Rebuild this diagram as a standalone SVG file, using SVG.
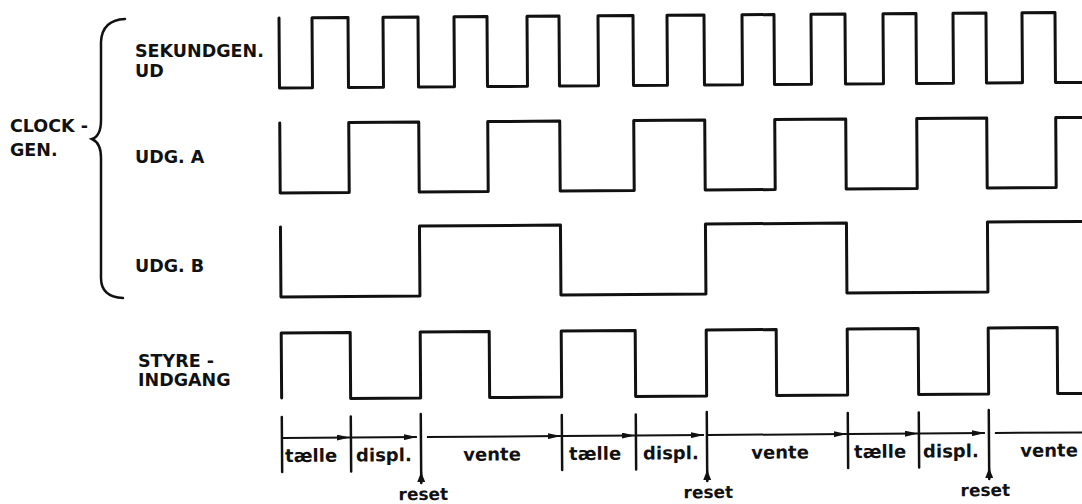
<svg xmlns="http://www.w3.org/2000/svg" width="1082" height="504" viewBox="0 0 1082 504">
  <defs>
    <style>
      .wave { fill: none; stroke: #111; stroke-width: 3; stroke-linejoin: round; stroke-linecap: round; }
      .tick { stroke: #111; stroke-width: 2.5; stroke-linecap: round; }
      .arr { stroke: #111; stroke-width: 2; fill: none; }
      .lbl { font-family: "DejaVu Sans", "Liberation Sans", sans-serif; font-weight: bold; font-size: 17.5px; fill: #111; }
      .tl { font-family: "DejaVu Sans", "Liberation Sans", sans-serif; font-weight: bold; font-size: 18px; fill: #111; }
      .rs { font-family: "DejaVu Sans", "Liberation Sans", sans-serif; font-weight: bold; font-size: 17px; fill: #111; text-anchor: middle; }
      .brace { fill: none; stroke: #111; stroke-width: 2.5; stroke-linecap: round; }
    </style>
    <marker id="ah" viewBox="0 0 13 6" refX="13" refY="3" markerWidth="13" markerHeight="6" markerUnits="userSpaceOnUse" orient="auto">
      <path d="M0,0 L13,3 L0,6 Z" fill="#111"/>
    </marker>
    <marker id="ahr" viewBox="0 0 10 8" refX="10" refY="4" markerWidth="10" markerHeight="8" markerUnits="userSpaceOnUse" orient="auto">
      <path d="M0,0 L10,4 L0,8 Z" fill="#111"/>
    </marker>
  </defs>
  <rect width="1082" height="504" fill="#fff"/>

  <g id="labels">
    <text class="lbl" x="10" y="132">CLOCK -</text>
    <text class="lbl" x="10" y="156">GEN.</text>
    <path id="brace" class="brace" d="M125,19 Q102,20 101,42 L101,120 Q101,136 92,139 Q101,143 101,158 L101,278 Q101,297 123,298"/>
    <text class="lbl" x="135" y="57">SEKUNDGEN.</text>
    <text class="lbl" x="135" y="77">UD</text>
    <text class="lbl" x="135" y="163">UDG. A</text>
    <text class="lbl" x="135" y="272">UDG. B</text>
    <text class="lbl" x="138" y="367">STYRE -</text>
    <text class="lbl" x="138" y="386">INDGANG</text>
  </g>

  <g transform="rotate(-0.4 279 18)">
    <g id="sekundgen">
      <path class="wave" d="M279,18 V88 H312 V18 H348 V88 H383 V18 H418 V88 H454 V18 H487 V88 H527 V18 H559 V88 H598 V18 H633 V88 H667 V18 H704 V88 H742 V18 H774 V88 H811 V18 H845 V88 H883 V18 H916 V88 H953 V18 H986 V88 H1022 V18 H1055 V88 H1095"/>
    </g>
    <g id="udg-a">
      <path class="wave" d="M279,123 V193 H348 V123 H418 V193 H487 V123 H559 V193 H633 V123 H704 V193 H774 V123 H845 V193 H916 V123 H986 V193 H1055 V123 H1095"/>
    </g>
    <g id="udg-b">
      <path class="wave" d="M279,227 V297 H418 V227 H559 V297 H704 V227 H845 V297 H986 V227 H1095"/>
    </g>
    <g id="styre">
      <path class="wave" d="M279,398 V333 H348 V399 H418 V333 H487 V399 H559 V333 H633 V399 H704 V333 H774 V399 H845 V333 H916 V399 H986 V333 H1055 V399 H1095"/>
    </g>

    <g id="connectors">
      <line class="tick" x1="279" y1="417" x2="279" y2="472"/>
      <line class="tick" x1="348" y1="417" x2="348" y2="472"/>
      <line class="tick" x1="418" y1="415" x2="418" y2="484"/>
      <line class="tick" x1="559" y1="417" x2="559" y2="472"/>
      <line class="tick" x1="633" y1="417" x2="633" y2="472"/>
      <line class="tick" x1="704" y1="415" x2="704" y2="484"/>
      <line class="tick" x1="845" y1="417" x2="845" y2="472"/>
      <line class="tick" x1="916" y1="417" x2="916" y2="472"/>
      <line class="tick" x1="986" y1="415" x2="986" y2="484"/>

      <path class="arr" d="M418,484 V473" marker-end="url(#ahr)"/>
      <path class="arr" d="M704,484 V473" marker-end="url(#ahr)"/>
      <path class="arr" d="M986,484 V473" marker-end="url(#ahr)"/>

      <path class="arr" d="M280,438 H347" marker-end="url(#ah)"/>
      <path class="arr" d="M349,438 H414" marker-end="url(#ah)"/>
      <path class="arr" d="M424,438 H558" marker-end="url(#ah)"/>
      <path class="arr" d="M560,438 H632" marker-end="url(#ah)"/>
      <path class="arr" d="M634,438 H701" marker-end="url(#ah)"/>
      <path class="arr" d="M705,438 H844" marker-end="url(#ah)"/>
      <path class="arr" d="M846,438 H915" marker-end="url(#ah)"/>
      <path class="arr" d="M917,438 H982" marker-end="url(#ah)"/>
      <path class="arr" d="M992,438 H1095"/>
    </g>

    <g id="phase-labels">
      <text class="tl" x="282" y="462">tælle</text>
      <text class="tl" x="353" y="462">displ.</text>
      <text class="tl" x="489" y="462" text-anchor="middle">vente</text>
      <text class="tl" x="566" y="462">tælle</text>
      <text class="tl" x="640" y="462">displ.</text>
      <text class="tl" x="777" y="462" text-anchor="middle">vente</text>
      <text class="tl" x="851" y="462">tælle</text>
      <text class="tl" x="920" y="462">displ.</text>
      <text class="tl" x="1046" y="462" text-anchor="middle">vente</text>
      <text class="rs" x="420" y="501">reset</text>
      <text class="rs" x="705" y="501">reset</text>
      <text class="rs" x="982" y="501">reset</text>
    </g>
  </g>
</svg>
